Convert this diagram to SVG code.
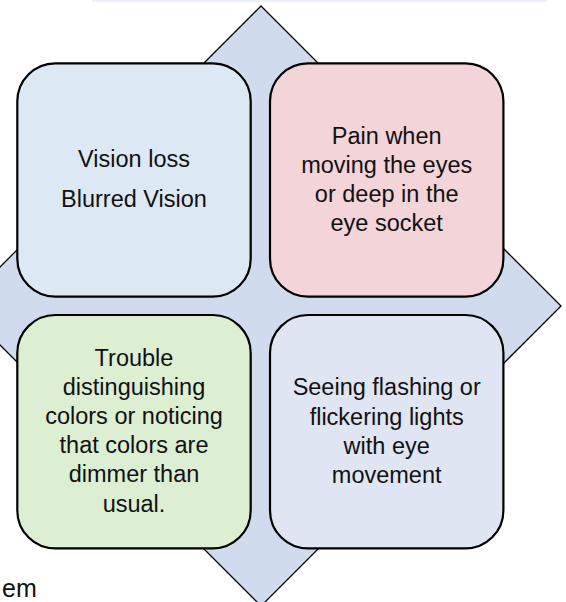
<svg xmlns="http://www.w3.org/2000/svg" width="566" height="602" viewBox="0 0 566 602">
  <style>
    .box { stroke: #000; stroke-width: 2.2; }
    .lbl { font-family: "Liberation Sans", Arial, sans-serif; font-size: 23.5px; fill: #111; text-anchor: middle; }
  </style>
  <rect width="566" height="602" fill="#ffffff"/>
  <rect x="92" y="-3" width="455" height="5" fill="#eaf0f8"/>
  <g id="diamond">
    <polygon points="261,6 561,306 261,606 -39,306" fill="#d0dcee" stroke="#000" stroke-width="1.3"/>
  </g>
  <g id="connectors"></g>
  <g id="node-vision">
    <rect class="box" x="17.3" y="63.3" width="233.4" height="233.4" rx="38" ry="38" fill="#dde8f5"/>
    <text class="lbl" x="134" y="167.3">Vision loss</text>
    <text class="lbl" x="134" y="207.3">Blurred Vision</text>
  </g>
  <g id="node-pain">
    <rect class="box" x="270" y="63.3" width="233.4" height="233.4" rx="38" ry="38" fill="#f2d4d9"/>
    <text class="lbl" x="386.7" y="143.5">Pain when</text>
    <text class="lbl" x="386.7" y="172.7">moving the eyes</text>
    <text class="lbl" x="386.7" y="201.9">or deep in the</text>
    <text class="lbl" x="386.7" y="231.1">eye socket</text>
  </g>
  <g id="node-colors">
    <rect class="box" x="17.3" y="315" width="233.4" height="233.4" rx="38" ry="38" fill="#dcefd3"/>
    <text class="lbl" x="134" y="365.5">Trouble</text>
    <text class="lbl" x="134" y="394.7">distinguishing</text>
    <text class="lbl" x="134" y="423.9">colors or noticing</text>
    <text class="lbl" x="134" y="453.1">that colors are</text>
    <text class="lbl" x="134" y="482.3">dimmer than</text>
    <text class="lbl" x="134" y="511.5">usual.</text>
  </g>
  <g id="node-flashing">
    <rect class="box" x="270" y="315" width="233.4" height="233.4" rx="38" ry="38" fill="#e0e5f4"/>
    <text class="lbl" x="386.7" y="395.4">Seeing flashing or</text>
    <text class="lbl" x="386.7" y="424.6">flickering lights</text>
    <text class="lbl" x="386.7" y="453.8">with eye</text>
    <text class="lbl" x="386.7" y="483">movement</text>
  </g>
  <text x="2" y="597" style="font-family: 'Liberation Sans', Arial, sans-serif; font-size: 25px; fill: #111;">em</text>
</svg>
